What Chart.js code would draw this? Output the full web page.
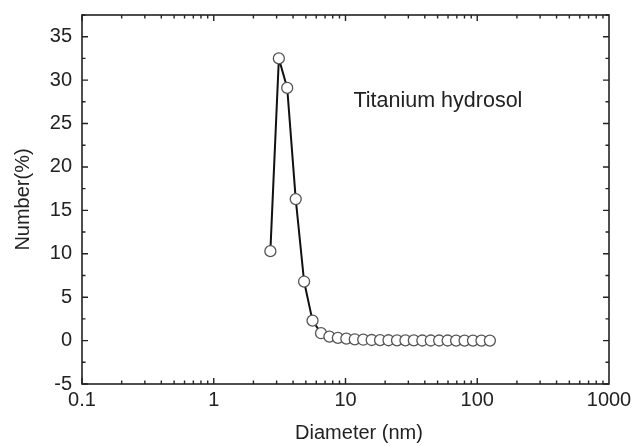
<!DOCTYPE html>
<html>
<head>
<meta charset="utf-8">
<script src="https://cdn.jsdelivr.net/npm/chart.js@4.4.1/dist/chart.umd.min.js"></script>
<style>
  html, body { margin: 0; padding: 0; background: #fff; }
  #wrap { width: 633px; height: 446px; }
</style>
</head>
<body>
<div id="wrap"><canvas id="chart"></canvas></div>
<script>
// diameter (nm) and number (%)
diameters = [2.69, 3.12, 3.61, 4.19, 4.85, 5.62, 6.52, 7.55, 8.75, 10.15,
  11.76, 13.63, 15.8, 18.3, 21.2, 24.6, 28.5, 33.0, 38.3, 44.4,
  51.4, 59.6, 69.1, 80.1, 92.8, 107.6, 124.7];
numbers = [10.3, 32.5, 29.1, 16.3, 6.8, 2.3, 0.85, 0.45, 0.32, 0.22,
  0.15, 0.1, 0.07, 0.05, 0.04, 0.03, 0.02, 0.02, 0.01, 0.01,
  0.01, 0.01, 0, 0, 0, 0, 0];

xTicks = [0.1, 1, 10, 100, 1000];
yTicks = [-5, 0, 5, 10, 15, 20, 25, 30, 35];

const font = "Arial, 'Liberation Sans', sans-serif";
const ink = "#222";

// frame with inward ticks on all four sides, plus the text label
const framePlugin = {
  id: "frame",
  afterDraw(chart) {
    const ctx = chart.ctx;
    const a = chart.chartArea;
    const xs = chart.scales.x;
    const ys = chart.scales.y;
    ctx.save();
    ctx.strokeStyle = ink;
    ctx.lineWidth = 1.6;
    ctx.strokeRect(a.left, a.top, a.right - a.left, a.bottom - a.top);

    ctx.lineWidth = 1.4;
    ctx.beginPath();
    // x ticks, log decades
    for (let d = 0.1; d < 1000; d *= 10) {
      for (let k = 1; k <= 9; k++) {
        const v = d * k;
        const px = xs.getPixelForValue(v);
        const len = k == 1 ? 6 : 3.5;
        ctx.moveTo(px, a.bottom); ctx.lineTo(px, a.bottom - len);
        ctx.moveTo(px, a.top); ctx.lineTo(px, a.top + len);
      }
    }
    // y ticks, major every 5 and minor between
    for (let v = -5; v <= 37.5; v += 2.5) {
      const py = ys.getPixelForValue(v);
      const len = v % 5 == 0 ? 6 : 3.5;
      ctx.moveTo(a.left, py); ctx.lineTo(a.left + len, py);
      ctx.moveTo(a.right, py); ctx.lineTo(a.right - len, py);
    }
    ctx.stroke();

    ctx.fillStyle = ink;
    ctx.font = "21.5px " + font;
    ctx.textBaseline = "alphabetic";
    ctx.textAlign = "left";
    ctx.fillText("Titanium hydrosol", xs.getPixelForValue(11.5), ys.getPixelForValue(26.9));

    ctx.font = "20px " + font;
    ctx.textAlign = "center";
    ctx.textBaseline = "middle";
    ctx.fillText("Diameter (nm)", 359, 433);
    ctx.restore();
  }
};

const ctx = document.getElementById("chart").getContext("2d");
myChart = new Chart(ctx, {
  type: "scatter",
  data: {
    datasets: [
      {
        label: "Titanium hydrosol",
        data: diameters.map((d, i) => ({ x: d, y: numbers[i] })),
        showLine: true,
        borderColor: "#111",
        borderWidth: 2,
        pointRadius: 5.5,
        pointBorderWidth: 1.3,
        pointBorderColor: "#555",
        pointBackgroundColor: "#fff",
        tension: 0,
      },
    ],
  },
  options: {
    responsive: true,
    maintainAspectRatio: false,
    animation: false,
    layout: { padding: { top: 15, right: 24, left: 0, bottom: 0 } },
    plugins: { legend: { display: false }, tooltip: { enabled: false } },
    scales: {
      x: {
        type: "logarithmic",
        min: 0.1,
        max: 1000,
        afterBuildTicks: (s) => { s.ticks = xTicks.map((v) => ({ value: v })); },
        afterFit: (s) => { s.height = 62; s.paddingLeft = 0; s.paddingRight = 0; },
        grid: { display: false, drawTicks: false },
        border: { display: false },
        ticks: {
          autoSkip: false,
          maxRotation: 0,
          padding: 4,
          color: ink,
          font: { family: font, size: 20 },
          callback: (v) => v.toString(),
        },
      },
      y: {
        min: -5,
        max: 37.5,
        afterBuildTicks: (s) => { s.ticks = yTicks.map((v) => ({ value: v })); },
        afterFit: (s) => { s.width = 82; s.paddingTop = 0; s.paddingBottom = 0; },
        grid: { display: false, drawTicks: false },
        border: { display: false },
        ticks: {
          padding: 10,
          color: ink,
          font: { family: font, size: 20 },
        },
        title: {
          display: true,
          text: "Number(%)",
          color: ink,
          font: { family: font, size: 20 },
          padding: { top: 11, bottom: 0 },
        },
      },
    },
  },
  plugins: [framePlugin],
});
</script>
</body>
</html>
